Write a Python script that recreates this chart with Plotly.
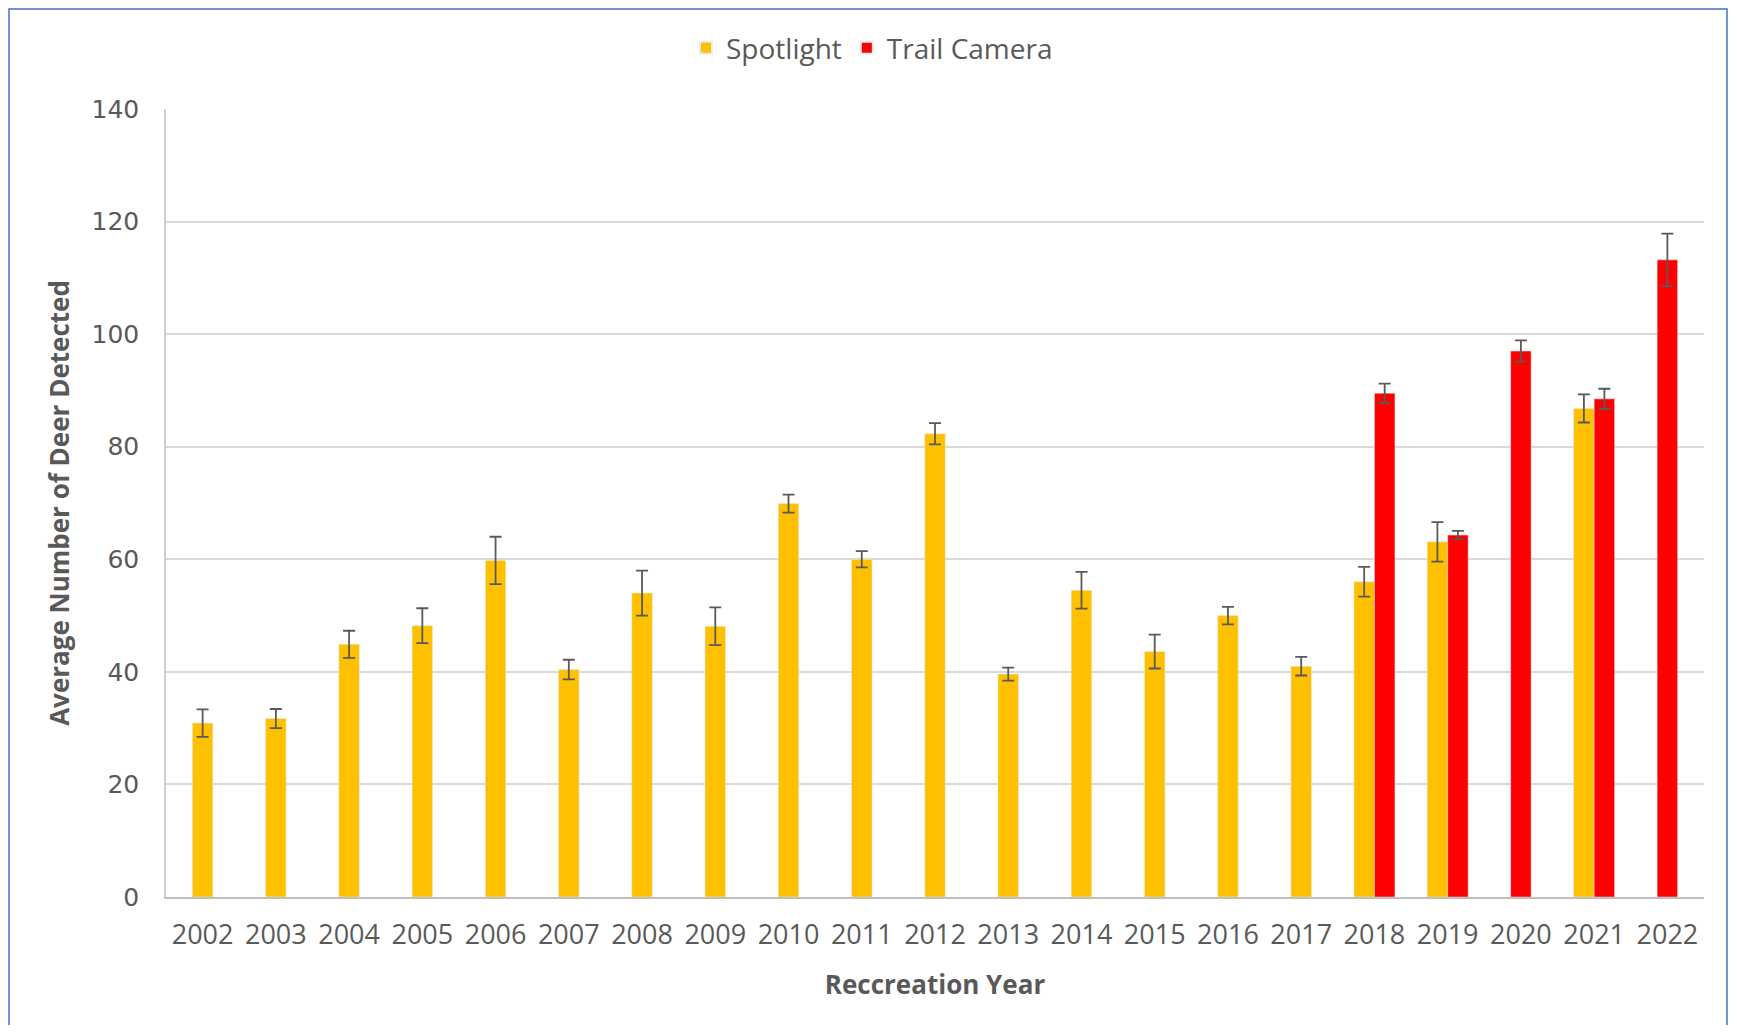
import plotly.graph_objects as go

years = [str(y) for y in range(2002, 2023)]
spotlight = [30.9, 31.7, 44.9, 48.2, 59.8, 40.4, 54.0, 48.1, 69.9, 60.0, 82.3,
             39.6, 54.5, 43.6, 50.0, 41.0, 56.0, 63.1, None, 86.8, None]
spotlight_err = [2.45, 1.7, 2.4, 3.1, 4.2, 1.75, 4.0, 3.35, 1.6, 1.45, 1.9,
                 1.15, 3.25, 3.0, 1.55, 1.65, 2.65, 3.5, None, 2.5, None]
trail = [None] * 16 + [89.5, 64.3, 97.0, 88.5, 113.2]
trail_err = [None] * 16 + [1.7, 0.75, 1.9, 1.8, 4.65]

W = 0.28
sp_off = [(-W if t is not None else -W / 2) for t in trail]
tr_off = [(0 if s is not None else -W / 2) for s in spotlight]

err_style = dict(type="data", visible=True, color="#595959", thickness=1.8, width=6)

fig = go.Figure()
fig.add_trace(go.Bar(
    x=years, y=spotlight, name="Spotlight", marker_color="#FFC000",
    width=[W] * len(years), offset=sp_off,
    error_y=dict(array=spotlight_err, **err_style),
))
fig.add_trace(go.Bar(
    x=years, y=trail, name="Trail Camera", marker_color="#FF0000",
    width=[W] * len(years), offset=tr_off,
    error_y=dict(array=trail_err, **err_style),
))

# page body has an 8px margin; work in page pixels and convert
OFF = 8
FW, FH = 1737 - 2 * OFF, 1033 - 2 * OFF
PL, PR, PT, PB = 166, 1704, 109, 897   # plot area in page pixels
L, T = PL - OFF, PT - OFF
R = FW - (PR - OFF)
B = FH - (PB - OFF)
pw, ph = FW - L - R, FH - T - B

def px_x(p):
    return (p - OFF - L) / pw

def px_y(p):
    return (FH - B - (p - OFF)) / ph

fig.update_layout(
    width=FW, height=FH,
    margin=dict(l=L, r=R, t=T, b=B),
    paper_bgcolor="white", plot_bgcolor="white",
    barmode="overlay",
    font=dict(family="Open Sans", color="#595959"),
    legend=dict(orientation="h", x=px_x(872), xanchor="center", y=px_y(48), yanchor="middle",
                font=dict(size=28, color="#595959"), itemsizing="constant", traceorder="normal"),
    xaxis=dict(type="category", tickfont=dict(size=27, color="#595959"),
               showline=True, linecolor="#bfbfbf", linewidth=2, ticks="",
               ticklabelstandoff=13,
               title=dict(text="<b>Reccreation Year</b>", font=dict(size=26, color="#595959"), standoff=24)),
    yaxis=dict(range=[0, 140], dtick=20, tickfont=dict(size=25, color="#595959", family="DejaVu Sans"),
               showgrid=True, gridcolor="#d9d9d9", gridwidth=1.5, zeroline=False,
               showline=True, linecolor="#d0d0d0", linewidth=1.5, ticks="", ticklen=0,
               ticklabelstandoff=20,
               title=dict(text="<b>Average Number of Deer Detected</b>", font=dict(size=26, color="#595959"), standoff=14)),
    shapes=[dict(type="rect", xref="paper", yref="paper",
                 x0=px_x(9), x1=px_x(1727), y0=px_y(1040), y1=px_y(9),
                 line=dict(color="#4472C4", width=1.5), fillcolor="rgba(0,0,0,0)", layer="below")],
)

fig.write_html("out.html")
